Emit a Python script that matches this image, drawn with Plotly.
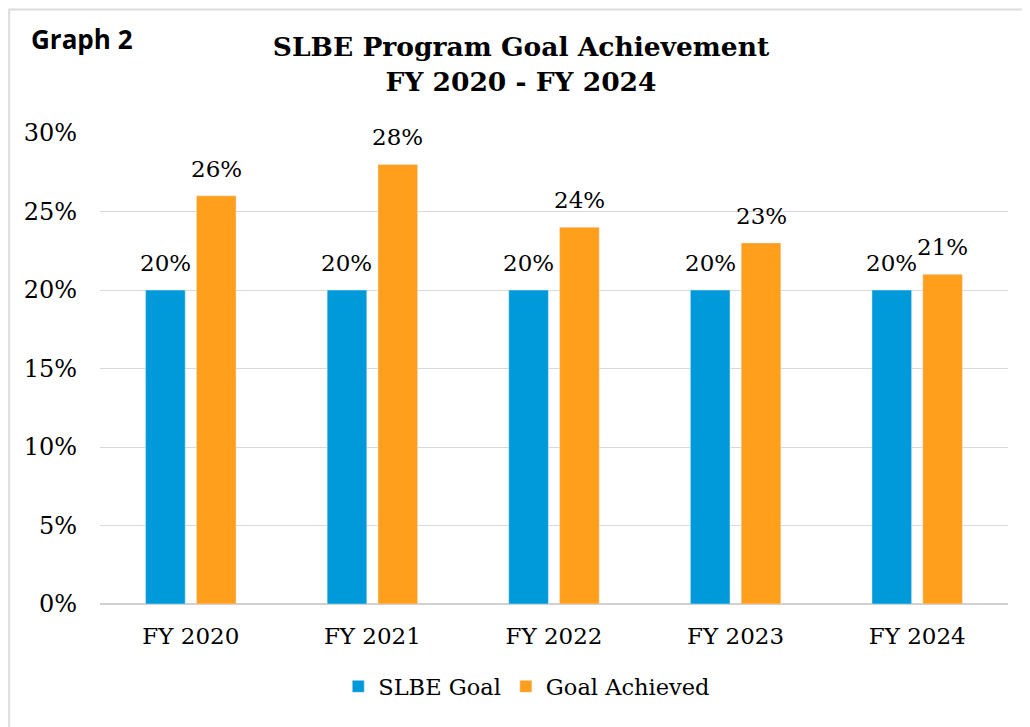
import plotly.graph_objects as go

categories = ["FY 2020", "FY 2021", "FY 2022", "FY 2023", "FY 2024"]
slbe_goal = [0.20, 0.20, 0.20, 0.20, 0.20]
goal_achieved = [0.26, 0.28, 0.24, 0.23, 0.21]
y_ticks = [0, 0.05, 0.10, 0.15, 0.20, 0.25, 0.30]

serif = "DejaVu Serif"
BAR_SHIFT = 25.5  # px offset of each bar from its category centre

fig = go.Figure()
fig.add_trace(go.Bar(x=categories, y=slbe_goal, name="SLBE Goal",
                     marker_color="#009ADA"))
fig.add_trace(go.Bar(x=categories, y=goal_achieved, name="Goal Achieved",
                     marker_color="#FF9F1C"))

# value labels above bars
labels = []
for values, shift in [(slbe_goal, -BAR_SHIFT), (goal_achieved, BAR_SHIFT)]:
    for cat, v in zip(categories, values):
        labels.append(dict(
            x=cat, y=v, text=f"{v:.0%}", xref="x", yref="y",
            xanchor="center", yanchor="bottom", xshift=shift, yshift=12,
            showarrow=False, font=dict(family=serif, size=23, color="black"),
        ))

labels.append(dict(text="<b>Graph 2</b>", xref="paper", yref="paper",
                   x=-0.078, y=1.2, xanchor="left", yanchor="middle",
                   showarrow=False,
                   font=dict(family="Open Sans", size=26, color="black")))

fig.update_layout(
    width=1022, height=719,
    plot_bgcolor="white", paper_bgcolor="white",
    barmode="group", bargap=0.44, bargroupgap=0.22,
    margin=dict(l=92, r=22, t=125, b=123),
    title=dict(
        text="<b>SLBE Program Goal Achievement<br>FY 2020 - FY 2024</b>",
        x=0.502, xanchor="center", y=0.933, yanchor="top",
        font=dict(family=serif, size=26.5, color="black"),
    ),
    legend=dict(
        orientation="h", x=0.47, xanchor="center", y=-0.13, yanchor="top",
        font=dict(family=serif, size=22.5, color="black"),
        traceorder="normal",
    ),
    shapes=[dict(type="rect", xref="paper", yref="paper",
                 x0=-0.1, x1=1.1, y0=-0.4, y1=1.262,
                 line=dict(color="#dcdcdc", width=2))],
    annotations=labels,
)
fig.update_yaxes(
    range=[0, 0.30], tickvals=y_ticks, tickformat=".0%",
    showgrid=True, gridcolor="#d9d9d9", gridwidth=1,
    zeroline=True, zerolinecolor="#d0d0d0", zerolinewidth=2,
    tickfont=dict(family=serif, size=24, color="black"),
    ticks="", ticklabelstandoff=22,
)
fig.update_xaxes(
    tickfont=dict(family=serif, size=23, color="black"),
    ticklabelstandoff=16,
)

fig.write_html("out.html")
